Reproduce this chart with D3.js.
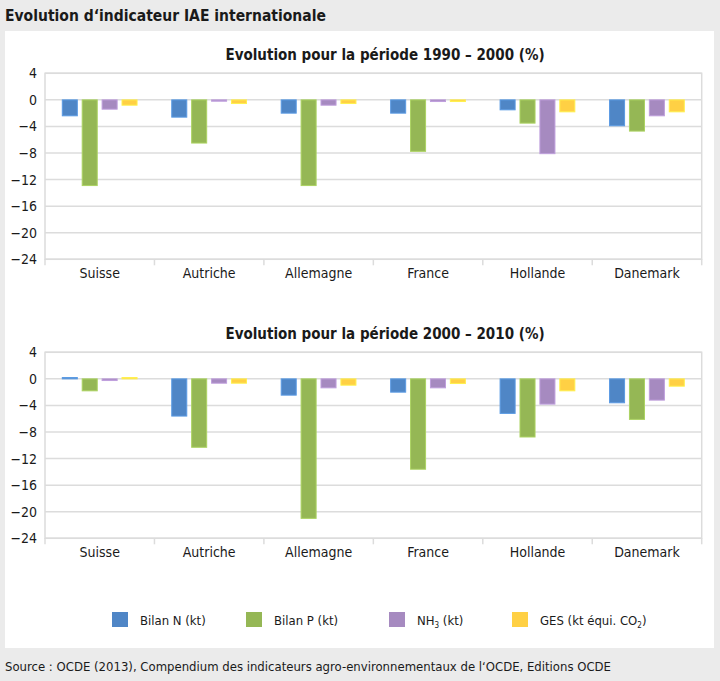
<!DOCTYPE html>
<html><head><meta charset="utf-8">
<script src="https://cdn.jsdelivr.net/npm/d3@7"></script>
<style>
html,body{margin:0;padding:0;background:#ebebeb;}
svg{display:block;}
text{font-family:"Liberation Sans Narrow","DejaVu Sans Condensed","Open Sans",sans-serif;fill:#1a1a1a;}
</style></head>
<body>
<svg id="c" width="720" height="681"></svg>
<script>
const categories = ["Suisse","Autriche","Allemagne","France","Hollande","Danemark"];
const seriesNames = ["Bilan N (kt)","Bilan P (kt)","NH3 (kt)","GES (kt équi. CO2)"];
const seriesColors = ["#4f86c6","#95b755","#a68ac0","#ffd044"];
// 1990-2000
const p1BilanN = [-2.4,-2.6,-2.0,-2.0,-1.5,-3.9];
const p1BilanP = [-12.9,-6.5,-12.9,-7.75,-3.5,-4.7];
const p1NH3    = [-1.4,-0.2,-0.8,-0.25,-8.1,-2.4];
const p1GES    = [-0.8,-0.55,-0.55,-0.25,-1.8,-1.8];
// 2000-2010
const p2BilanN = [0.2,-5.6,-2.45,-2.0,-5.2,-3.6];
const p2BilanP = [-1.8,-10.3,-21.0,-13.6,-8.75,-6.1];
const p2NH3    = [-0.25,-0.65,-1.35,-1.35,-3.8,-3.2];
const p2GES    = [0.2,-0.65,-0.95,-0.7,-1.8,-1.1];
const yTicks = [4,0,-4,-8,-12,-16,-20,-24];
const titles = ["Evolution pour la période 1990 – 2000 (%)","Evolution pour la période 2000 – 2010 (%)"];

const svg = d3.select("#c");
svg.append("rect").attr("x",0).attr("y",0).attr("width",720).attr("height",681).attr("fill","#ebebeb");
svg.append("rect").attr("x",5).attr("y",31).attr("width",709).attr("height",617).attr("fill","#ffffff");
svg.append("text").attr("x",5).attr("y",21).attr("font-size",15.5).attr("font-weight","bold").text("Evolution d‘indicateur IAE internationale");

function drawChart(data, title, top, bottom, titleY){
  const left=45, right=701.7;
  const g = svg.append("g");
  g.append("text").attr("x",385).attr("y",titleY).attr("text-anchor","middle").attr("font-size",15).attr("font-weight","bold").text(title);
  const y = d3.scaleLinear().domain([-24,4]).range([bottom,top]);
  const x = d3.scaleBand().domain(categories).range([left,right]).padding(0);
  const xs = d3.scaleBand().domain(seriesNames).range([x.bandwidth()*0.158, x.bandwidth()*0.841]).paddingInner(0.245).paddingOuter(0);
  g.selectAll(".grid").data(yTicks).enter().append("line")
    .attr("x1",left).attr("x2",right).attr("y1",d=>y(d)).attr("y2",d=>y(d))
    .attr("stroke","#dcdcdc").attr("stroke-width",1.5);
  g.append("rect").attr("x",left).attr("y",top).attr("width",right-left).attr("height",bottom-top)
    .attr("fill","none").attr("stroke","#dcdcdc").attr("stroke-width",1.5);
  const ya = d3.axisLeft(y).tickValues(yTicks).tickSize(0).tickPadding(8);
  const yg = g.append("g").attr("transform",`translate(${left},0)`).call(ya);
  yg.select(".domain").remove();
  yg.selectAll("text").attr("font-size",14).attr("font-family",null).attr("fill","#1a1a1a");
  const xa = d3.axisBottom(x).tickSize(0).tickPadding(9);
  const xg = g.append("g").attr("transform",`translate(0,${bottom})`).call(xa);
  xg.select(".domain").remove();
  xg.selectAll("text").attr("font-size",14).attr("font-family",null).attr("fill","#1a1a1a");
  const bounds = categories.map(c=>x(c)).concat([right]);
  g.selectAll(".ctick").data(bounds).enter().append("line")
    .attr("x1",d=>d).attr("x2",d=>d).attr("y1",bottom).attr("y2",bottom+6)
    .attr("stroke","#dcdcdc").attr("stroke-width",1.5);
  data.forEach((vals,si)=>{
    const col = seriesColors[si];
    g.selectAll(null).data(vals).enter().append("rect")
      .attr("x",(d,i)=>x(categories[i])+xs(seriesNames[si]))
      .attr("width",xs.bandwidth())
      .attr("y",d=>y(Math.max(0,d)))
      .attr("height",d=>Math.abs(y(d)-y(0)))
      .attr("fill",col)
      .attr("stroke",d3.color(col).brighter(0.4))
      .attr("stroke-width",1);
  });
}
drawChart([p1BilanN,p1BilanP,p1NH3,p1GES], titles[0], 73.3, 259.3, 60);
drawChart([p2BilanN,p2BilanP,p2NH3,p2GES], titles[1], 352.3, 538.3, 339);

const legendX = [112,246,389,512];
const lg = svg.append("g");
seriesNames.forEach((n,i)=>{
  lg.append("rect").attr("x",legendX[i]).attr("y",612).attr("width",16).attr("height",15).attr("fill",seriesColors[i]);
  const t = lg.append("text").attr("x",legendX[i]+28).attr("y",625).attr("font-size",13);
  if(i===2){
    t.append("tspan").text("NH");
    t.append("tspan").attr("font-size",8).attr("dy",3).text("3");
    t.append("tspan").attr("dy",-3).text(" (kt)");
  } else if(i===3){
    t.append("tspan").text("GES (kt équi. CO");
    t.append("tspan").attr("font-size",8).attr("dy",3).text("2");
    t.append("tspan").attr("dy",-3).text(")");
  } else t.text(n);
});
svg.append("text").attr("x",5).attr("y",671).attr("font-size",13).text("Source : OCDE (2013), Compendium des indicateurs agro-environnementaux de l‘OCDE, Editions OCDE");
</script>
</body></html>
